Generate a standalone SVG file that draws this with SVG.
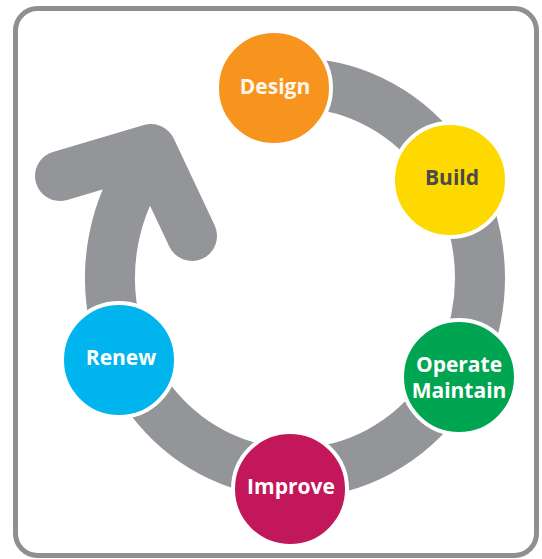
<svg xmlns="http://www.w3.org/2000/svg" width="542" height="559" viewBox="0 0 542 559">
<style>
.lbl{font-family:"Open Sans","Liberation Sans",sans-serif;font-weight:700;font-size:21px;text-anchor:middle;fill:#ffffff}
.node circle{stroke:#ffffff;stroke-width:4}
.band{fill:none;stroke:#939598;stroke-width:50}
</style>
<rect x="15.5" y="8.5" width="521" height="547" rx="22" fill="#ffffff" stroke="#8e8f91" stroke-width="5"/>
<g id="connectors">
<path class="band" d="M 295 83 A 185 195 0 1 1 145.3 163.4"/>
<polyline class="band" points="60,176 151,149 192,236" stroke-linecap="round" stroke-linejoin="round"/>
</g>
<g id="design" class="node"><circle cx="274" cy="88" r="57" fill="#f7941e"/><text class="lbl" x="275" y="94" style="fill:#fff8ec">Design</text></g>
<g id="build" class="node"><circle cx="450" cy="180" r="57" fill="#fdd900"/><text class="lbl" x="452" y="185" style="fill:#4a4a4a">Build</text></g>
<g id="operate" class="node"><circle cx="459" cy="377" r="57" fill="#00a551"/><text class="lbl" x="459" y="372">Operate</text><text class="lbl" x="459" y="398">Maintain</text></g>
<g id="improve" class="node"><circle cx="290" cy="489" r="57" fill="#c2185b"/><text class="lbl" x="291" y="494">Improve</text></g>
<g id="renew" class="node"><circle cx="119" cy="360" r="57" fill="#00b4ee"/><text class="lbl" x="121" y="365">Renew</text></g>
</svg>
